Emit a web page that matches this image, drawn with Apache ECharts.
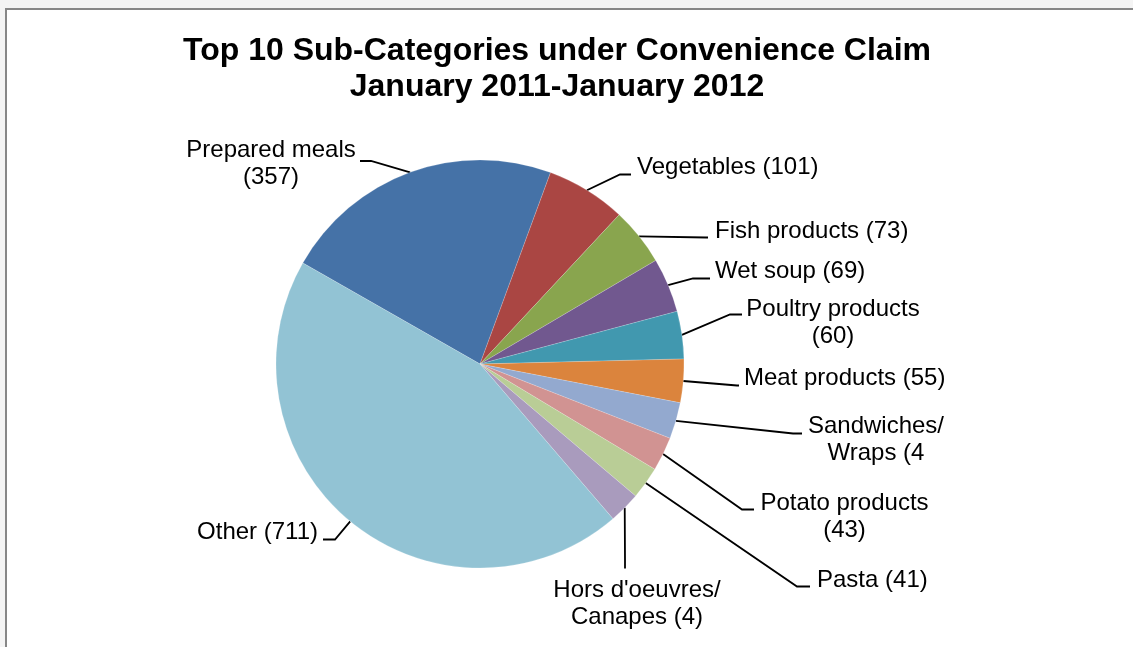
<!DOCTYPE html>
<html>
<head>
<meta charset="utf-8">
<script src="https://cdn.jsdelivr.net/npm/echarts@6/dist/echarts.min.js"></script>
<style>
  html, body { margin: 0; padding: 0; background: #f4f4f4; }
  #chart { width: 1133px; height: 647px; }
</style>
</head>
<body>
<div id="chart"></div>
<script>
// Sub-categories and claim counts, clockwise from "Prepared meals"
const categories = ['Prepared meals', 'Vegetables', 'Fish products', 'Wet soup', 'Poultry products',
  'Meat products', 'Sandwiches/ Wraps', 'Potato products', 'Pasta', "Hors d'oeuvres/ Canapes", 'Other'];
const counts = [357, 101, 73, 69, 60, 55, 46, 43, 41, 40, 711];
const sliceColors = ['#4572A7', '#AA4643', '#89A54E', '#71588F', '#4198AF', '#DB843D',
  '#93A9CF', '#D19392', '#B9CD96', '#A99BBD', '#92C3D4'];

// Text shown in each data label (two of them are clipped in the text box)
const labelText = ['Prepared meals\n(357)', 'Vegetables (101)', 'Fish products (73)', 'Wet soup (69)',
  'Poultry products\n(60)', 'Meat products (55)', 'Sandwiches/\nWraps (4', 'Potato products\n(43)',
  'Pasta (41)', "Hors d'oeuvres/\nCanapes (4)", 'Other (711)'];

// Label placement: [x, y, align, elbowX, elbowY, endX, endY]
const labelSpots = [
  [271, 164, 'center', 371, 161, 360, 161],
  [637, 167, 'left', 620, 174.5, 631, 174.5],
  [715, 231, 'left', 706, 237.5, 708, 237.5],
  [715, 271, 'left', 693, 278.5, 710, 278.5],
  [833, 322.5, 'center', 730, 314.5, 742, 314.5],
  [744, 378.5, 'left', 737, 385.5, 739, 385.5],
  [876, 440, 'center', 793, 433.5, 802, 433.5],
  [844.5, 517, 'center', 742, 509.5, 754, 509.5],
  [817, 580, 'left', 797, 586.5, 810, 586.5],
  [637, 603.5, 'center', 625, 560, 625, 568.5],
  [318, 532, 'right', 335, 539.5, 323, 539.5]
];

const chart = echarts.init(document.getElementById('chart'), null, { renderer: 'canvas' });
const FONT = '"Liberation Sans", Arial, sans-serif';

chart.setOption({
  animation: false,
  backgroundColor: '#f4f4f4',
  graphic: [{
    type: 'rect',
    z: -10,
    shape: { x: 6, y: 9, width: 1200, height: 700 },
    style: { fill: '#ffffff', stroke: '#878787', lineWidth: 2 },
    silent: true
  }],
  title: {
    text: 'Top 10 Sub-Categories under Convenience Claim\nJanuary 2011-January 2012',
    left: 557,
    top: 33,
    padding: 0,
    textAlign: 'center',
    textStyle: {
      fontFamily: FONT,
      fontSize: 32,
      fontWeight: 'bold',
      lineHeight: 36,
      color: '#000'
    }
  },
  series: [{
    type: 'pie',
    center: [480, 364],
    radius: 204,
    startAngle: 150.3,
    clockwise: true,
    avoidLabelOverlap: false,
    itemStyle: { borderColor: 'rgba(255,255,255,0.35)', borderWidth: 0.5 },
    label: {
      show: true,
      position: 'outer',
      alignTo: 'none',
      fontFamily: FONT,
      fontSize: 24,
      lineHeight: 27,
      color: '#000',
      formatter: p => labelText[p.dataIndex]
    },
    labelLine: {
      show: true,
      length: 10,
      length2: 10,
      smooth: false,
      lineStyle: { color: '#000', width: 1.8 }
    },
    labelLayout: function (params) {
      const s = labelSpots[params.dataIndex];
      const start = params.labelLinePoints ? params.labelLinePoints[0] : [s[3], s[4]];
      return {
        x: s[0],
        y: s[1],
        align: s[2],
        verticalAlign: 'middle',
        labelLinePoints: [start, [s[3], s[4]], [s[5], s[6]]]
      };
    },
    emphasis: { disabled: true },
    data: categories.map((name, i) => ({
      name: name,
      value: counts[i],
      itemStyle: { color: sliceColors[i] }
    }))
  }]
});
</script>
</body>
</html>
